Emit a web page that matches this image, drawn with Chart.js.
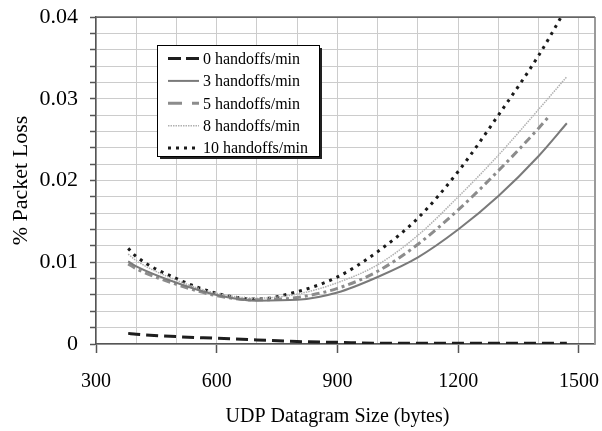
<!DOCTYPE html>
<html>
<head>
<meta charset="utf-8">
<script src="https://cdn.jsdelivr.net/npm/chart.js@4.4.1/dist/chart.umd.min.js"></script>
<style>
html,body{margin:0;padding:0;background:#fff;}
canvas{display:block;}
</style>
</head>
<body>
<canvas id="c" width="602" height="431"></canvas>
<script>
// ---- data ----
const seriesLabels = ['0 handoffs/min','3 handoffs/min','5 handoffs/min','8 handoffs/min','10 handoffs/min'];
const sizes   = [380, 400, 500, 600, 700, 800, 900, 1000, 1100, 1200, 1300, 1400, 1470];
const sizes5  = [380, 400, 500, 600, 700, 800, 900, 1000, 1100, 1200, 1300, 1400, 1423];
const loss0   = [0.0013,0.0012,0.0009,0.0007,0.0005,0.0003,0.0002,0.0001,0.0001,0.0001,0.0001,0.0001,0.0001];
const loss3   = [0.0101,0.0095,0.0075,0.0060,0.0053,0.0054,0.0063,0.0082,0.0106,0.0140,0.0181,0.0230,0.0270];
const loss5   = [0.0098,0.0092,0.0073,0.0059,0.0054,0.0057,0.0068,0.0089,0.0122,0.0164,0.0212,0.0264,0.0277];
const loss8   = [0.0110,0.0102,0.0078,0.0062,0.0056,0.0061,0.0075,0.0097,0.0133,0.0180,0.0231,0.0287,0.0327];
const loss10  = [0.0117,0.0107,0.0080,0.0062,0.0055,0.0064,0.0082,0.0113,0.0154,0.0211,0.0280,0.0353,0.0412];
const xTickLabels = [300, 600, 900, 1200, 1500];
const yTickLabels = [0, 0.01, 0.02, 0.03, 0.04];
const xTitle = 'UDP Datagram Size (bytes)';
const yTitle = '% Packet Loss';

const pts = (xs, ys) => xs.map((x, i) => ({x: x, y: ys[i]}));

const FONT = '"Liberation Serif", "Times New Roman", serif';

const whiteBg = {
  id: 'whiteBg',
  beforeDraw(chart) {
    const ctx = chart.ctx;
    ctx.save();
    ctx.fillStyle = '#fff';
    ctx.fillRect(0, 0, chart.width, chart.height);
    ctx.restore();
  }
};

const frame = {
  id: 'frame',
  afterDatasetsDraw(chart) {
    const ctx = chart.ctx, a = chart.chartArea;
    ctx.save();
    ctx.strokeStyle = '#9a9a9a';
    ctx.lineWidth = 2;
    ctx.beginPath();
    ctx.moveTo(a.right, a.top);
    ctx.lineTo(a.right, a.bottom);
    ctx.stroke();
    ctx.strokeStyle = '#666';
    ctx.lineWidth = 1.5;
    ctx.beginPath();
    ctx.moveTo(a.left, a.top);
    ctx.lineTo(a.right, a.top);
    ctx.stroke();
    ctx.restore();
  }
};

// x-axis title drawn centred on the labelled 300..1500 span (as in the reference)
const xTitlePlugin = {
  id: 'xTitlePlugin',
  afterDraw(chart) {
    const ctx = chart.ctx, xs = chart.scales.x;
    const cx = (xs.getPixelForValue(xTickLabels[0]) + xs.getPixelForValue(xTickLabels[xTickLabels.length - 1])) / 2;
    ctx.save();
    ctx.fillStyle = '#000';
    ctx.font = '20px ' + FONT;
    ctx.textAlign = 'center';
    ctx.textBaseline = 'alphabetic';
    ctx.fillText(xTitle, cx, 422);
    ctx.restore();
  }
};

const legendBox = {
  id: 'legendBox',
  afterDatasetsDraw(chart) {
    const ctx = chart.ctx;
    const x0 = 157, y0 = 45, w = 162, h = 111;
    ctx.save();
    ctx.fillStyle = '#222';
    ctx.fillRect(x0 + 3, y0 + 3, w, h);
    ctx.fillStyle = '#fff';
    ctx.fillRect(x0, y0, w, h);
    ctx.strokeStyle = '#000';
    ctx.lineWidth = 1;
    ctx.strokeRect(x0 + 0.5, y0 + 0.5, w, h);
    ctx.font = '16px ' + FONT;
    ctx.textBaseline = 'middle';
    ctx.textAlign = 'left';
    chart.data.datasets.forEach((ds, i) => {
      const y = 58.5 + i * 22.4;
      ctx.beginPath();
      ctx.setLineDash(ds.legendDash || ds.borderDash || []);
      ctx.strokeStyle = ds.borderColor;
      ctx.lineWidth = ds.borderWidth;
      ctx.moveTo(168, y);
      ctx.lineTo(199, y);
      ctx.stroke();
      ctx.setLineDash([]);
      ctx.fillStyle = '#000';
      ctx.fillText(ds.label, 203, y + 1);
    });
    ctx.restore();
  }
};

const common = {pointRadius: 0, fill: false, cubicInterpolationMode: 'monotone', clip: 0};

new Chart(document.getElementById('c'), {
  type: 'line',
  data: {
    datasets: [
      Object.assign({label: seriesLabels[0], data: pts(sizes, loss0), borderColor: '#1e1e1e', borderWidth: 3, borderDash: [12, 6], legendDash: [13, 5]}, common),
      Object.assign({label: seriesLabels[1], data: pts(sizes, loss3), borderColor: '#7a7a7a', borderWidth: 2}, common),
      Object.assign({label: seriesLabels[2], data: pts(sizes5, loss5), borderColor: '#8c8c8c', borderWidth: 3, borderDash: [8, 4, 3, 4], legendDash: [14, 10, 7]}, common),
      Object.assign({label: seriesLabels[3], data: pts(sizes, loss8), borderColor: '#b0b0b0', borderWidth: 1.5, borderDash: [1.5, 1]}, common),
      Object.assign({label: seriesLabels[4], data: pts(sizes, loss10), borderColor: '#1a1a1a', borderWidth: 3, borderDash: [3, 5]}, common)
    ]
  },
  options: {
    responsive: false,
    animation: false,
    events: [],
    layout: {padding: {top: 17, right: 7, left: 0, bottom: 0}},
    plugins: {legend: {display: false}, tooltip: {enabled: false}},
    scales: {
      x: {
        type: 'linear',
        min: 300,
        max: 1540,
        afterFit(scale) { scale.height = 87; scale.paddingLeft = 0; scale.paddingRight = 0; },
        ticks: {
          stepSize: 100,
          includeBounds: false,
          autoSkip: false,
          maxRotation: 0,
          padding: 17,
          color: '#000',
          font: {family: FONT, size: 20},
          callback: v => (xTickLabels.includes(v) ? String(v) : '')
        },
        grid: {
          color: '#cccccc',
          lineWidth: 1,
          tickLength: 9,
          tickWidth: 1.5,
          tickColor: ctx => (ctx.tick && xTickLabels.includes(ctx.tick.value) ? '#555' : 'rgba(0,0,0,0)')
        },
        border: {display: true, color: '#555', width: 1.5},
        title: {display: false}
      },
      y: {
        type: 'linear',
        min: 0,
        max: 0.04,
        afterFit(scale) { scale.width = 96; scale.paddingTop = 0; scale.paddingBottom = 0; },
        ticks: {
          stepSize: 0.002,
          autoSkip: false,
          padding: 12,
          color: '#000',
          font: {family: FONT, size: 22},
          callback: v => {
            const r = Math.round(v * 100) / 100;
            return (Math.abs(v - r) < 1e-7 && yTickLabels.some(t => Math.abs(t - r) < 1e-9)) ? String(r) : '';
          }
        },
        grid: {
          color: ctx => (ctx.tick && ctx.tick.value > 0.0399 ? '#666' : '#cccccc'),
          lineWidth: 1,
          tickLength: 6,
          tickWidth: 1.5,
          tickColor: '#555'
        },
        border: {display: true, color: '#555', width: 1.5},
        title: {display: true, text: yTitle, color: '#000', font: {family: FONT, size: 22}, padding: {top: 8, bottom: 0}}
      }
    }
  },
  plugins: [whiteBg, frame, legendBox, xTitlePlugin]
});
</script>
</body>
</html>
